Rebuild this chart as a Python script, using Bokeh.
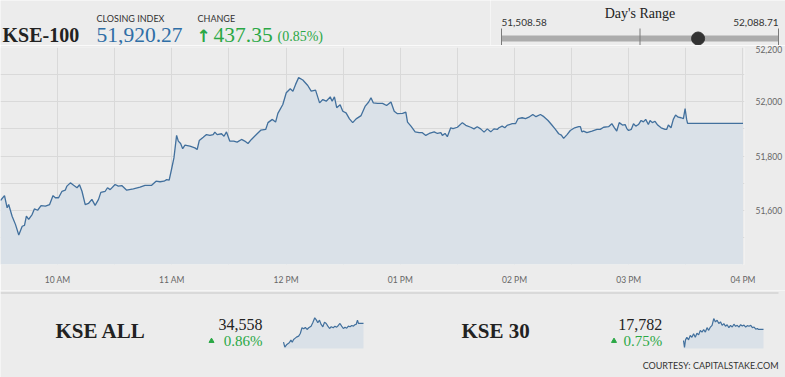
from bokeh.plotting import figure
from bokeh.layouts import column, row
from bokeh.models import Range1d, FixedTicker, NumeralTickFormatter
from bokeh.core.properties import value
from bokeh.embed import file_html
from bokeh.resources import INLINE

# ---------------- data ----------------
index_name = "KSE-100"
close_index = 51920.27
change_pts = 437.35
change_pct = 0.85
day_low = 51508.58
day_high = 52088.71

# minutes after 09:30
kse100_t = [0, 2.1, 3.5, 4.3, 6.1, 7.9, 9.6, 11.4, 12.6, 13.6,
            14.8, 16.6, 17.8, 19.5, 21.3, 23.6, 25.8, 27.6, 28.8, 30.5,
            32.3, 34.0, 34.9, 36.7, 38.4, 40.2, 41.5, 42.8, 44.5, 46.2,
            48.0, 49.7, 51.5, 52.7, 55.0, 56.2, 57.6, 60.2, 61.9, 63.7,
            66.3, 69.8, 73.3, 75.9, 79.4, 81.7, 83.8, 85.9, 87.3, 88.6,
            89.9, 91.1, 92.5, 93.4, 94.6, 95.7, 96.9, 99.5, 102.1, 103.3,
            104.4, 106.5, 108.2, 110.0, 111.7, 112.6, 113.8, 116.1, 117.4, 118.7,
            120.4, 122.5, 124.3, 126.6, 128.3, 130.0, 131.8, 134.4, 136.7, 139.3,
            140.5, 142.8, 144.5, 145.7, 148.3, 150.1, 152.2, 153.6, 155.0, 156.6,
            158.8, 161.4, 163.2, 165.5, 167.6, 169.3, 171.1, 173.2, 174.2, 175.4,
            176.6, 178.4, 179.8, 181.5, 183.3, 185.0, 186.8, 189.4, 191.6, 193.4,
            194.6, 195.8, 198.1, 200.7, 202.8, 205.1, 206.8, 208.5, 211.2, 212.9,
            213.8, 215.6, 217.8, 219.9, 221.6, 223.4, 225.2, 227.8, 229.5, 231.3,
            232.1, 233.5, 234.7, 236.5, 237.7, 240.0, 242.6, 244.4, 247.0, 248.7,
            250.4, 252.2, 254.0, 255.7, 257.5, 259.2, 260.9, 261.8, 263.5, 264.9,
            266.1, 268.8, 270.5, 271.9, 274.0, 275.8, 277.5, 279.6, 281.3, 283.6,
            285.4, 287.6, 289.4, 291.5, 293.2, 294.6, 295.8, 297.6, 299.3, 301.6,
            303.7, 304.6, 305.4, 306.3, 308.0, 310.7, 313.3, 315.0, 316.8, 319.4,
            321.1, 322.5, 323.7, 325.0, 326.7, 328.1, 329.0, 329.9, 331.3, 332.5,
            333.7, 335.1, 336.5, 337.7, 338.9, 340.3, 341.2, 342.4, 343.8, 345.2,
            347.0, 349.1, 349.9, 350.8, 352.2, 353.4, 354.6, 356.0, 357.5, 358.7,
            359.6, 360.4, 360.9, 390.0]
kse100_v = [51636, 51654, 51609, 51621, 51578, 51547, 51509, 51541, 51544, 51578,
            51566, 51584, 51605, 51600, 51617, 51615, 51621, 51654, 51646, 51646,
            51670, 51674, 51689, 51701, 51692, 51683, 51694, 51670, 51621, 51625,
            51640, 51618, 51640, 51666, 51670, 51683, 51676, 51695, 51689, 51691,
            51674, 51679, 51685, 51692, 51692, 51707, 51705, 51707, 51713, 51711,
            51753, 51793, 51876, 51855, 51846, 51827, 51840, 51836, 51830, 51824,
            51857, 51869, 51879, 51876, 51879, 51888, 51879, 51882, 51873, 51889,
            51855, 51855, 51851, 51861, 51855, 51846, 51861, 51879, 51895, 51898,
            51923, 51935, 51925, 51957, 51990, 52033, 52048, 52039, 52064, 52089,
            52080, 52060, 52039, 52043, 51996, 52008, 52002, 52018, 52002, 52018,
            51978, 51989, 51965, 51959, 51937, 51923, 51937, 51949, 51984, 51999,
            52015, 51996, 51994, 51994, 51986, 51999, 51965, 51956, 51957, 51962,
            51925, 51910, 51889, 51886, 51886, 51876, 51883, 51889, 51883, 51886,
            51876, 51883, 51871, 51904, 51901, 51906, 51923, 51913, 51906, 51900,
            51908, 51900, 51888, 51900, 51889, 51900, 51898, 51904, 51910, 51904,
            51913, 51919, 51919, 51938, 51941, 51938, 51943, 51953, 51945, 51953,
            51945, 51931, 51916, 51898, 51882, 51877, 51865, 51879, 51894, 51904,
            51908, 51908, 51889, 51892, 51886, 51892, 51898, 51898, 51906, 51908,
            51919, 51904, 51892, 51923, 51914, 51916, 51901, 51894, 51898, 51919,
            51910, 51916, 51931, 51926, 51935, 51916, 51931, 51923, 51928, 51914,
            51904, 51898, 51898, 51914, 51904, 51935, 51951, 51943, 51941, 51938,
            51975, 51935, 51920, 51920]

hour_ticks = [30, 90, 150, 210, 270, 330, 390]
hour_labels = ["10 AM", "11 AM", "12 PM", "01 PM", "02 PM", "03 PM", "04 PM"]
half_ticks = [60, 120, 180, 240, 300, 360]
y_major = [51600, 51800, 52000, 52200]
y_minor = [51400, 51500, 51700, 51900, 52100]

kse_all_name = "KSE ALL"
kse_all_value = 34558
kse_all_pct = 0.86
kse_all_t = [0, 6.6, 16.4, 27.9, 36.1, 42.6, 49.2, 57.4, 65.6, 73.8,
             81.9, 90.1, 98.3, 106.5, 114.7, 122.9, 134.4, 142.6, 152.4, 160.6,
             167.2, 175.4, 183.6, 191.8, 200.0, 208.2, 216.3, 224.5, 232.7, 242.6,
             250.8, 259.0, 267.2, 275.4, 283.5, 291.7, 299.9, 308.1, 316.3, 324.5,
             332.7, 340.9, 347.5, 354.0, 360.6, 365.5, 390]
kse_all_v = [34316, 34251, 34286, 34308, 34342, 34316, 34351, 34368, 34385, 34394,
             34428, 34502, 34489, 34506, 34480, 34502, 34523, 34567, 34631, 34601,
             34567, 34601, 34545, 34515, 34575, 34558, 34523, 34493, 34515, 34502,
             34523, 34510, 34532, 34558, 34523, 34493, 34510, 34497, 34523, 34515,
             34532, 34523, 34541, 34545, 34601, 34558, 34558]

kse30_name = "KSE 30"
kse30_value = 17782
kse30_pct = 0.75
kse30_t = [0, 4.9, 9.8, 16.4, 24.6, 32.8, 41.0, 49.2, 57.4, 65.6,
           73.8, 82.0, 90.1, 98.3, 106.5, 114.7, 122.9, 131.1, 139.3, 147.5,
           155.7, 163.9, 172.1, 180.3, 188.5, 196.7, 204.8, 213.0, 221.2, 229.4,
           237.6, 245.8, 254.0, 262.2, 270.4, 278.6, 286.8, 295.0, 303.2, 311.4,
           319.6, 327.8, 336.0, 344.2, 352.4, 360.6, 364.0, 390]
kse30_v = [17711, 17667, 17715, 17732, 17715, 17743, 17732, 17754, 17732, 17758,
           17747, 17776, 17765, 17780, 17765, 17793, 17776, 17797, 17808, 17851,
           17830, 17841, 17819, 17830, 17808, 17819, 17802, 17812, 17793, 17808,
           17797, 17815, 17802, 17808, 17797, 17812, 17804, 17810, 17797, 17806,
           17802, 17808, 17793, 17797, 17784, 17788, 17782, 17782]

courtesy = "COURTESY: CAPITALSTAKE.COM"

# ---------------- style ----------------
BG = "#ececec"
LINE = "#42709d"
FILL = "#dae1e8"
GREEN = "#2aa845"
BLUE = "#2f6ea6"
DARK = "#222222"
SERIF = "Liberation Serif"
SANS = "Lato"


def blank(w, h, xr=None, yr=None):
    p = figure(width=w, height=h, output_backend="svg", toolbar_location=None,
               x_range=xr if xr is not None else Range1d(0, w),
               y_range=yr if yr is not None else Range1d(0, h),
               x_axis_type=None, y_axis_type=None,
               min_border=0, min_border_left=0, min_border_right=0,
               min_border_top=0, min_border_bottom=0, frame_align=False)
    p.grid.visible = False
    p.outline_line_color = None
    p.background_fill_color = BG
    p.border_fill_color = BG
    return p


def txt(p, h, x, ymid, s, font, size, color, align="left", style="normal"):
    # ymid: vertical centre of the text, measured from the top of the figure
    p.text(x=[x], y=[h - ymid], text=[s], text_font=value(font), text_font_size=value(size),
           text_color=color, text_align=align, text_baseline="middle", text_font_style=style)


# ---------------- header ----------------
H = 45
head = blank(490, H)
txt(head, H, 2, 34.5, index_name, SERIF, "20px", DARK, style="bold")
txt(head, H, 96, 17.5, "CLOSING INDEX", SANS, "9px", "#333333")
txt(head, H, 197, 17.5, "CHANGE", SANS, "9px", "#333333")
txt(head, H, 96, 34, f"{close_index:,.2f}", SERIF, "21.5px", BLUE)
txt(head, H, 196, 35, "\u2191", "DejaVu Sans", "17px", GREEN, style="bold")
txt(head, H, 213, 34, f"{change_pts:,.2f}", SERIF, "21.5px", GREEN)
txt(head, H, 277, 36, f"({change_pct:.2f}%)", SERIF, "14px", GREEN)

# slider: 51,508.58 at px 11, 52,088.71 at px 288 inside a 295 px wide figure
span = day_high - day_low
pxu = 277 / span
slider = blank(295, H, xr=Range1d(day_low - 11 / pxu, day_high + 7 / pxu))
mid = (day_low + day_high) / 2
slider.segment(x0=[day_low], y0=[H - 38], x1=[day_high], y1=[H - 38],
               line_color="#acacac", line_width=6, line_cap="butt")
slider.segment(x0=[day_low, mid, day_high], y0=[H - 28] * 3,
               x1=[day_low, mid, day_high], y1=[0] * 3,
               line_color="#7a7a7a", line_width=1)
slider.scatter(x=[close_index], y=[H - 38], size=13, color="#333333")
txt(slider, H, mid, 12.5, "Day's Range", SERIF, "14px", DARK, align="center")
txt(slider, H, day_low, 22, f"{day_low:,.2f}", SANS, "10px", "#333333")
txt(slider, H, day_high, 22, f"{day_high:,.2f}", SANS, "10px", "#333333", align="right")

# ---------------- main chart ----------------
p = figure(width=785, height=245, output_backend="svg", toolbar_location=None,
           x_range=Range1d(0, 390.8), y_range=Range1d(51400, 52200),
           y_axis_location="right", frame_align=False,
           min_border_left=0, min_border_right=39, min_border_top=2, min_border_bottom=26)
p.background_fill_color = BG
p.border_fill_color = BG
p.outline_line_color = None
p.varea(x=kse100_t, y1=51400, y2=kse100_v, fill_color=FILL)
p.line(kse100_t, kse100_v, line_color=LINE, line_width=1.3)

p.xaxis.ticker = FixedTicker(ticks=hour_ticks, minor_ticks=half_ticks)
p.xaxis.major_label_overrides = {t: l for t, l in zip(hour_ticks, hour_labels)}
p.yaxis.ticker = FixedTicker(ticks=y_major, minor_ticks=y_minor)
p.yaxis.formatter = NumeralTickFormatter(format="0,0")
for ax in (p.xaxis, p.yaxis):
    ax.axis_line_color = None
    ax.major_tick_line_color = None
    ax.minor_tick_line_color = None
    ax.major_tick_out = 0
    ax.major_tick_in = 0
    ax.major_label_text_font = SANS
    ax.major_label_text_font_size = "8.5px"
    ax.major_label_text_color = "#666666"
p.xaxis.major_label_standoff = 6
p.yaxis.major_label_standoff = 7
for g in (p.xgrid, p.ygrid):
    g.grid_line_color = "#d9d9d9"
    g.minor_grid_line_color = "#d9d9d9"

# ---------------- bottom panel (separator, summaries, sparklines, credit) ----------------
BH = 87  # y 290..377
bot = blank(785, BH)
bot.segment(x0=[0], y0=[BH - 2.5], x1=[778], y1=[BH - 2.5], line_color="#c6c6c6", line_width=1)


def add_spark(name, t, v, ylo, yhi, px_left, px_right, top_px=317 - 290, bottom_px=348 - 290):
    # map t 0..390 onto [px_left, px_right] and ylo..yhi onto [bottom_px, top_px] (from top)
    upx = 390 / (px_right - px_left)
    bot.extra_x_ranges[name + "x"] = Range1d(-px_left * upx, 390 + (785 - px_right) * upx)
    upy = (yhi - ylo) / (bottom_px - top_px)
    bot.extra_y_ranges[name + "y"] = Range1d(ylo - (BH - bottom_px) * upy, yhi + top_px * upy)
    bot.varea(x=t, y1=ylo, y2=v, fill_color=FILL, x_range_name=name + "x", y_range_name=name + "y")
    bot.line(t, v, line_color=LINE, line_width=1.2, x_range_name=name + "x", y_range_name=name + "y")


add_spark("s1", kse_all_t, kse_all_v, 34234, 34635, 283, 363)
add_spark("s2", kse30_t, kse30_v, 17660, 17858, 683, 763)

off = 290
for name, val, pct, xn, xr, xtri in ((kse_all_name, kse_all_value, kse_all_pct, 55, 262, 211),
                                     (kse30_name, kse30_value, kse30_pct, 461, 661.7, 613.5)):
    txt(bot, BH, xn, 330.5 - off, name, SERIF, "21px", DARK, style="bold")
    txt(bot, BH, xr, 324 - off, f"{val:,}", SERIF, "16px", DARK, align="right")
    txt(bot, BH, xr, 340 - off, f"{pct:.2f}%", SERIF, "15px", GREEN, align="right")
    bot.scatter(x=[xtri], y=[BH - (340.5 - off)], marker="triangle", size=5, color=GREEN)

txt(bot, BH, 778, 365 - off, courtesy, SANS, "9px", "#333333", align="right")

layout = column(row(head, slider, spacing=0), p, bot, spacing=0)

open("out.html", "w").write(file_html(layout, INLINE))
